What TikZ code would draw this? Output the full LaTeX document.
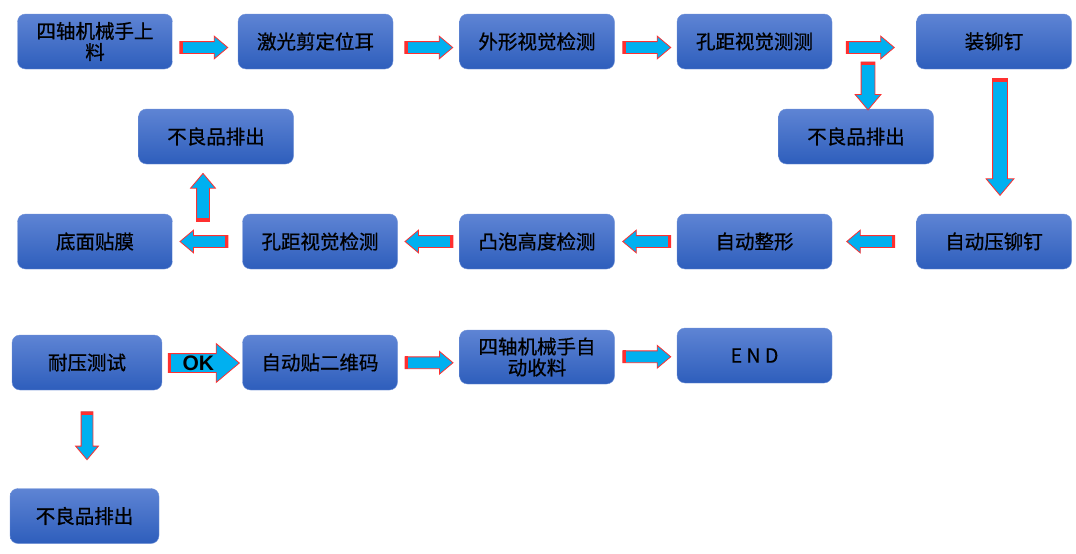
\documentclass[tikz,border=0pt]{standalone}
\usepackage{fontspec}
\setmainfont{Liberation Sans}
\newfontfamily\cjk[FakeBold=0.8]{Noto Sans CJK SC}
\usetikzlibrary{shapes.arrows,calc,positioning}
\definecolor{boxtop}{RGB}{94,132,212}
\definecolor{boxbot}{RGB}{46,94,188}
\definecolor{boxline}{RGB}{112,146,216}
\definecolor{arrfill}{RGB}{0,176,240}
\definecolor{arrline}{RGB}{255,48,48}
\tikzset{
    box/.style={
           rectangle,
           rounded corners=8pt,
           draw=boxline, thin,
           top color=boxtop, bottom color=boxbot,
           minimum width=155pt, minimum height=55pt,
           inner sep=0pt,
           align=center,
           font=\cjk\fontsize{19.5}{21}\selectfont,
           },
}
\tikzset{
    arr/.style={
           single arrow,
           draw=arrline, line width=0.8pt,
           fill=arrfill,
           inner xsep=0pt, inner ysep=5.5pt,
           single arrow head extend=5.5pt,
           single arrow tip angle=80,
           minimum height=48pt,
           },
}
\newcommand\tailstripe[1]{\draw[arrline, line width=3pt]
  ($(#1.before tail)!2pt!(#1.after head)$) -- ($(#1.after tail)!2pt!(#1.before head)$);}

\begin{document}
\begin{tikzpicture}[x=1pt,y=-1pt]
\useasboundingbox (0,0) rectangle (1076,554);
\node[box](b1) at (95,41.5){四轴机械手上\\料};
\node[box](b2) at (315.5,41.5){激光剪定位耳};
\node[box](b3) at (537,41.5){外形视觉检测};
\node[box](b4) at (754.5,41.5){孔距视觉测测};
\node[box](b5) at (994,41.5){装铆钉};
\node[box](n1) at (216,136.5){不良品排出};
\node[box](n2) at (856,136.5){不良品排出};
\node[box](c1) at (95,241.5){底面贴膜};
\node[box](c2) at (320,241.5){孔距视觉检测};
\node[box](c3) at (537,241.5){凸泡高度检测};
\node[box](c4) at (754.5,241.5){自动整形};
\node[box](c5) at (994,241.5){自动压铆钉};
\node[box,minimum width=150pt](d1) at (87,362.5){耐压测试};
\node[box](d2) at (320,362.5){自动贴二维码};
\node[box,minimum height=54pt](d3) at (537,357){四轴机械手自\\动收料};
\node[box](d4) at (754.5,355.5){E N D};
\node[box,minimum width=149pt](n3) at (84.5,516){不良品排出};
\node[arr](a1) at ($(b1.east)!0.5!(b2.west)+(-5,6)$){};
\node[arr](a2) at ($(b2.east)!0.5!(b3.west)+(-1,6)$){};
\node[arr](a3) at ($(b3.east)!0.5!(b4.west)+(-2.5,6)$){};
\node[arr](a4) at ($(b4.east)!0.5!(b5.west)+(-7.5,6)$){};
\node[arr,rotate=270,inner ysep=6.5pt,single arrow head extend=6pt](a5) at ($(n2.north)+(12,-27)$){};
\node[arr,rotate=270,minimum height=117pt,inner ysep=7pt,single arrow head extend=6.5pt](a6) at ($(b5.south)!0.5!(c5.north)+(6,-9)$){};
\node[arr,rotate=180](a7) at ($(c5.west)!0.5!(c4.east)+(0,0)$){};
\node[arr,rotate=180](a8) at ($(c4.west)!0.5!(c3.east)+(4.5,0)$){};
\node[arr,rotate=180](a9) at ($(c3.west)!0.5!(c2.east)+(4,0)$){};
\node[arr,rotate=180](a10) at ($(c2.west)!0.5!(c1.east)+(0,0)$){};
\node[arr,rotate=90,inner ysep=6pt,single arrow head extend=6pt](a11) at ($(n1.south)+(-13,37)$){};
\node[arr,minimum height=71pt,inner xsep=0pt,inner ysep=1.5pt,text height=15pt,text depth=0pt,
  single arrow head extend=10pt,font=\bfseries\fontsize{21}{21}\selectfont](a12)
  at ($(d1.east)!0.5!(d2.west)+(-4,0.5)$){OK};
\node[arr](a13) at ($(d2.east)!0.5!(d3.west)+(-3,3)$){};
\node[arr](a14) at ($(d3.east)!0.5!(d4.west)+(-2.5,0.5)$){};
\node[arr,rotate=270](a15) at ($(d1.south)+(0,42)$){};
\foreach \a in {a1,a2,a3,a4,a5,a6,a7,a8,a9,a10,a11,a12,a13,a14,a15}{
  \tailstripe{\a}
}
\end{tikzpicture}
\end{document}
